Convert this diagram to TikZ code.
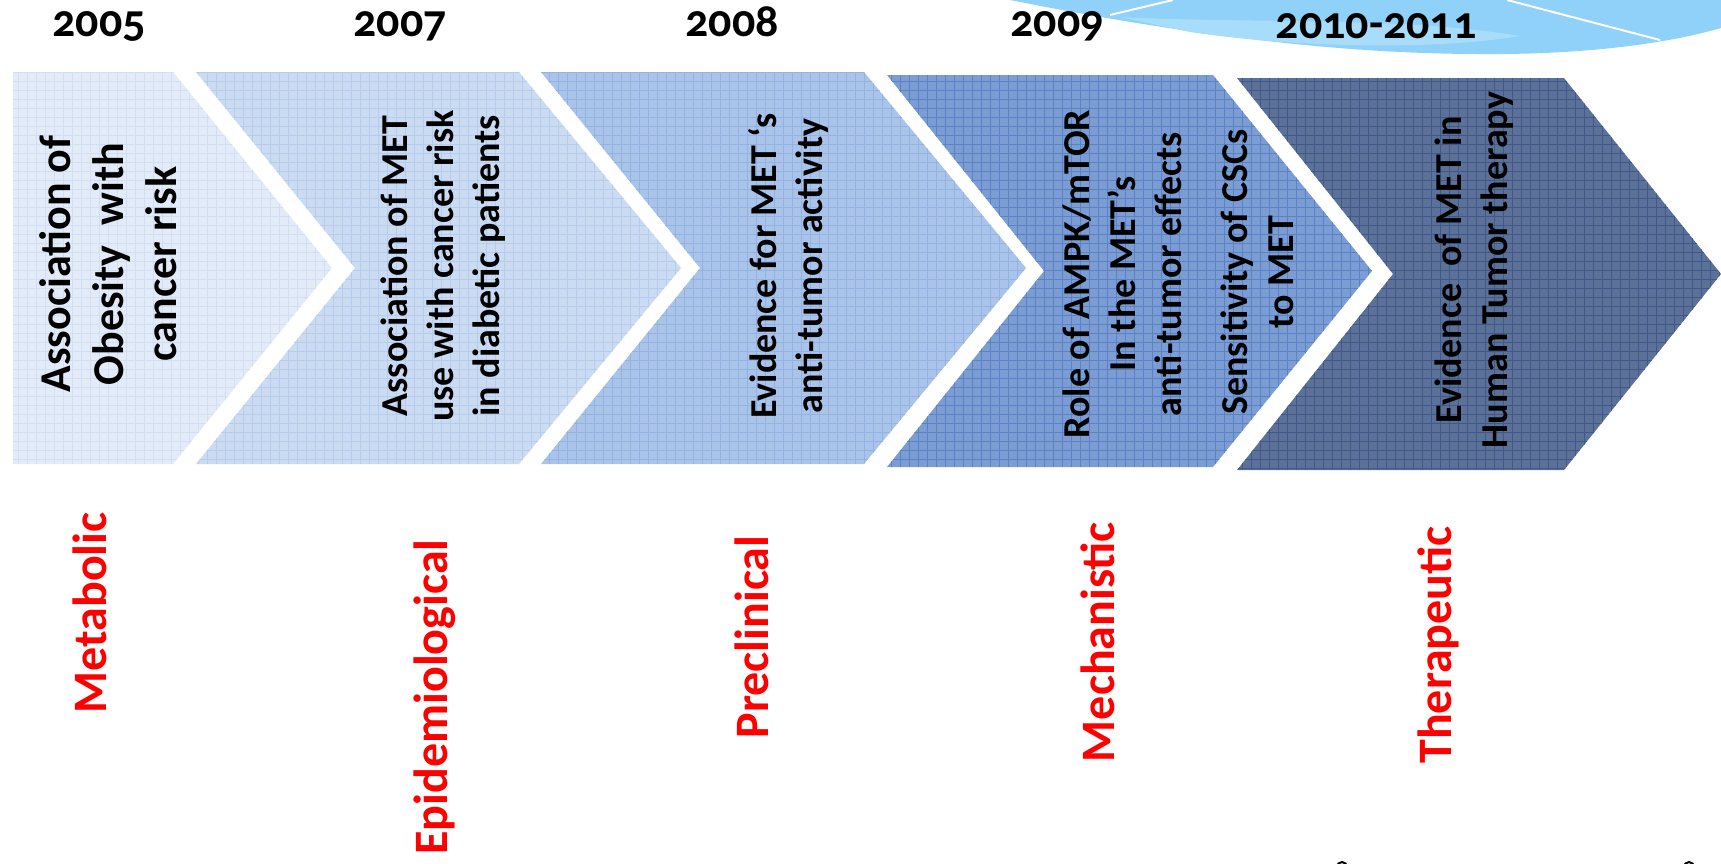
\documentclass[tikz,border=0pt]{standalone}
\usepackage{fontspec}
\setmainfont{Carlito}[Numbers=OldStyle]

\definecolor{chA}{HTML}{E2EBF7}
\definecolor{chAg}{HTML}{D2DFF2}
\definecolor{chB}{HTML}{CBDBF1}
\definecolor{chBg}{HTML}{B6CCEC}
\definecolor{chC}{HTML}{A9C3E9}
\definecolor{chCg}{HTML}{92B2E2}
\definecolor{chD}{HTML}{7B9DD3}
\definecolor{chDg}{HTML}{5A82C4}
\definecolor{chE}{HTML}{5C7197}
\definecolor{chEg}{HTML}{41598A}
\definecolor{sky}{HTML}{8FD1F9}
\definecolor{skylight}{HTML}{A7DCFB}

\tikzset{
  chev/.style 2 args={fill=#1, path picture={\draw[#2, line width=0.6pt, step=9pt]
      (path picture bounding box.south west) grid (path picture bounding box.north east);}},
  year/.style={inner sep=0pt, font=\bfseries\fontsize{46}{50}\selectfont},
  lbl/.style={rotate=90, inner sep=0pt, align=center, font=\bfseries\fontsize{38}{46}\selectfont},
  stage/.style={rotate=90, inner sep=0pt, text=red, font=\bfseries\fontsize{48}{52}\selectfont}
}

\begin{document}
\begin{tikzpicture}[x=1pt,y=-1pt]
\useasboundingbox (0,0) rectangle (1721,863);

% swoosh top right
\fill[sky] (1010,0) .. controls (1150,28) and (1320,54) .. (1480,54) .. controls (1600,55) and (1680,40) .. (1721,28) -- (1721,0) -- cycle;
\fill[skylight] (1120,17) .. controls (1260,24) and (1400,16) .. (1520,36) .. controls (1430,51) and (1290,47) .. (1190,32) -- cycle;
\draw[white, line width=2pt] (1110,15) -- (1173,0);
\draw[white, line width=2pt] (1507,0) -- (1660,40);

% years
\node[year] (y05) at (99,26) {2005};
\node[year] (y07) at (400,26) {2007};
\node[year] (y08) at (732,22) {2008};
\node[year] (y09) at (1057,26) {2009};
\node[year] (y10) at (1376,26) {2010-2011};

% chevrons
\path[chev={chA}{chAg}] (13,72) -- (173,72) -- (332,268) -- (173,464) -- (13,464) -- cycle;
\path[chev={chB}{chBg}] (196,72) -- (519,72) -- (681,268) -- (519,464) -- (196,464) -- (355,268) -- cycle;
\path[chev={chC}{chCg}] (541,72) -- (864,72) -- (1026,268) -- (864,464) -- (541,464) -- (700,268) -- cycle;
\path[chev={chD}{chDg}] (887,75) -- (1213,75) -- (1372,271) -- (1213,467) -- (887,467) -- (1044,271) -- cycle;
\path[chev={chE}{chEg}] (1237,78) -- (1564,78) -- (1721,274) -- (1564,470) -- (1237,470) -- (1393,274) -- cycle;

% texts in chevrons
\node[lbl, font=\bfseries\fontsize{44}{53}\selectfont] (obes) at (108,264) {Association of\\Obesity~~with\\cancer risk};
\node[lbl] (diab) at (443,266) {Association of MET\\use with cancer risk\\in diabetic patients};
\node[lbl] (anti) at (788,266) {Evidence for MET `s\\anti-tumor activity};
\node[lbl] (ampk) at (1122,274) {Role of AMPK/mTOR\\In the MET's\\anti-tumor effects};
\node[lbl] (cscs) at (1257,272) {Sensitivity of CSCs\\to MET};
\node[lbl] (hum) at (1474,270) {Evidence~~of MET in\\Human Tumor therapy};

% stages
\node[stage] (met) at (90,613) {Metabolic};
\node[stage] (epi) at (435,697) {Epidemiological};
\node[stage] (pre) at (752,637) {Preclinical};
\node[stage] (mec) at (1098,642) {Mechanistic};
\node[stage] (the) at (1438,645) {Therapeutic};

% marks at bottom edge
\draw[line width=2pt] (1342,867) circle (5);
\draw[line width=2pt] (1689,867) circle (5);
\end{tikzpicture}
\end{document}
